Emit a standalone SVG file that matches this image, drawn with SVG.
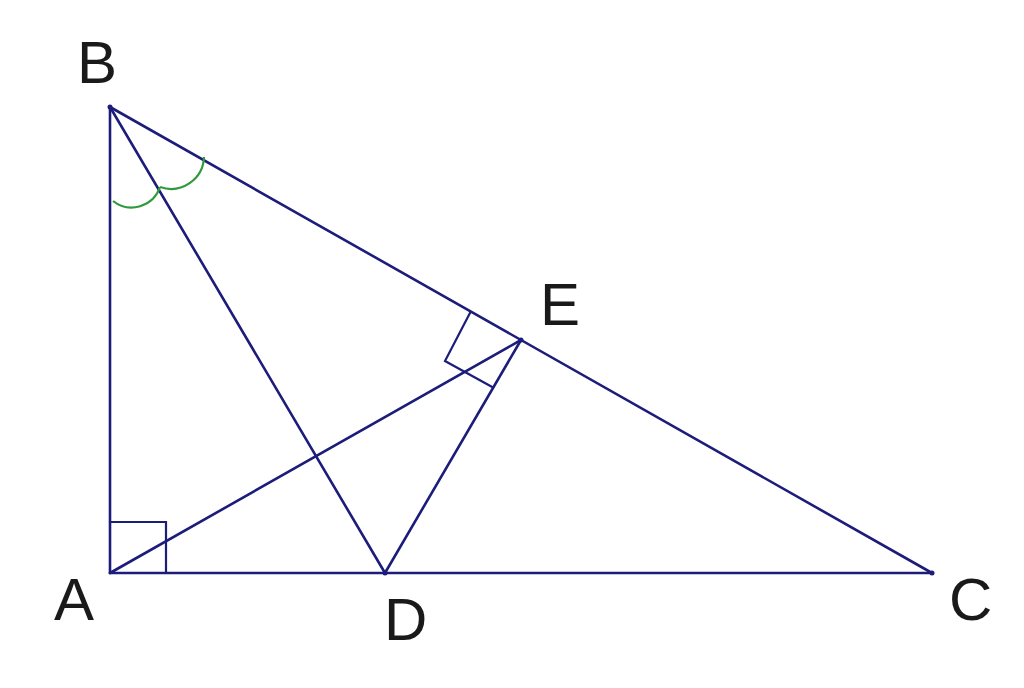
<svg xmlns="http://www.w3.org/2000/svg" width="1024" height="688" viewBox="0 0 1024 688">
<style>
.ln{stroke:#1c1c7a;stroke-width:2.6;fill:none;stroke-linecap:round}
.mk{stroke:#1c1c7a;stroke-width:2.2;fill:none}
.ang{stroke:#2f9a3a;stroke-width:2.2;fill:none}
.lb{font-family:"Liberation Sans",Arial,sans-serif;font-size:60px;fill:#1a1a1a}
</style>
<rect width="1024" height="688" fill="#ffffff"/>
<g id="connectors">
<line class="ln" x1="110" y1="107" x2="110" y2="573"/>
<line class="ln" x1="110" y1="573" x2="932" y2="573"/>
<line class="ln" x1="110" y1="107" x2="932" y2="573"/>
<line class="ln" x1="110" y1="107" x2="385" y2="573"/>
<line class="ln" x1="110" y1="573" x2="521" y2="340"/>
<line class="ln" x1="385" y1="573" x2="521" y2="340"/>
</g>
<g id="marks">
<polyline class="mk" points="110,522 166,522 166,573"/>
<polyline class="mk" points="471,311 445,361 494,388"/>
<path class="ang" d="M113,201 A30,30 0 0 0 160,187"/>
<path class="ang" d="M160,187 A33,33 0 0 0 204,157"/>
</g>
<g id="node-B"><circle cx="110" cy="107" r="2.5" fill="#1c1c7a"/><text class="lb" x="77" y="83">B</text></g>
<g id="node-A"><text class="lb" x="54" y="620">A</text></g>
<g id="node-D"><circle cx="385" cy="573" r="2.5" fill="#1c1c7a"/><text class="lb" x="384" y="640">D</text></g>
<g id="node-C"><circle cx="932" cy="573" r="2.5" fill="#1c1c7a"/><text class="lb" x="949" y="620">C</text></g>
<g id="node-E"><circle cx="521" cy="340" r="2.5" fill="#1c1c7a"/><text class="lb" x="540" y="325">E</text></g>
</svg>
